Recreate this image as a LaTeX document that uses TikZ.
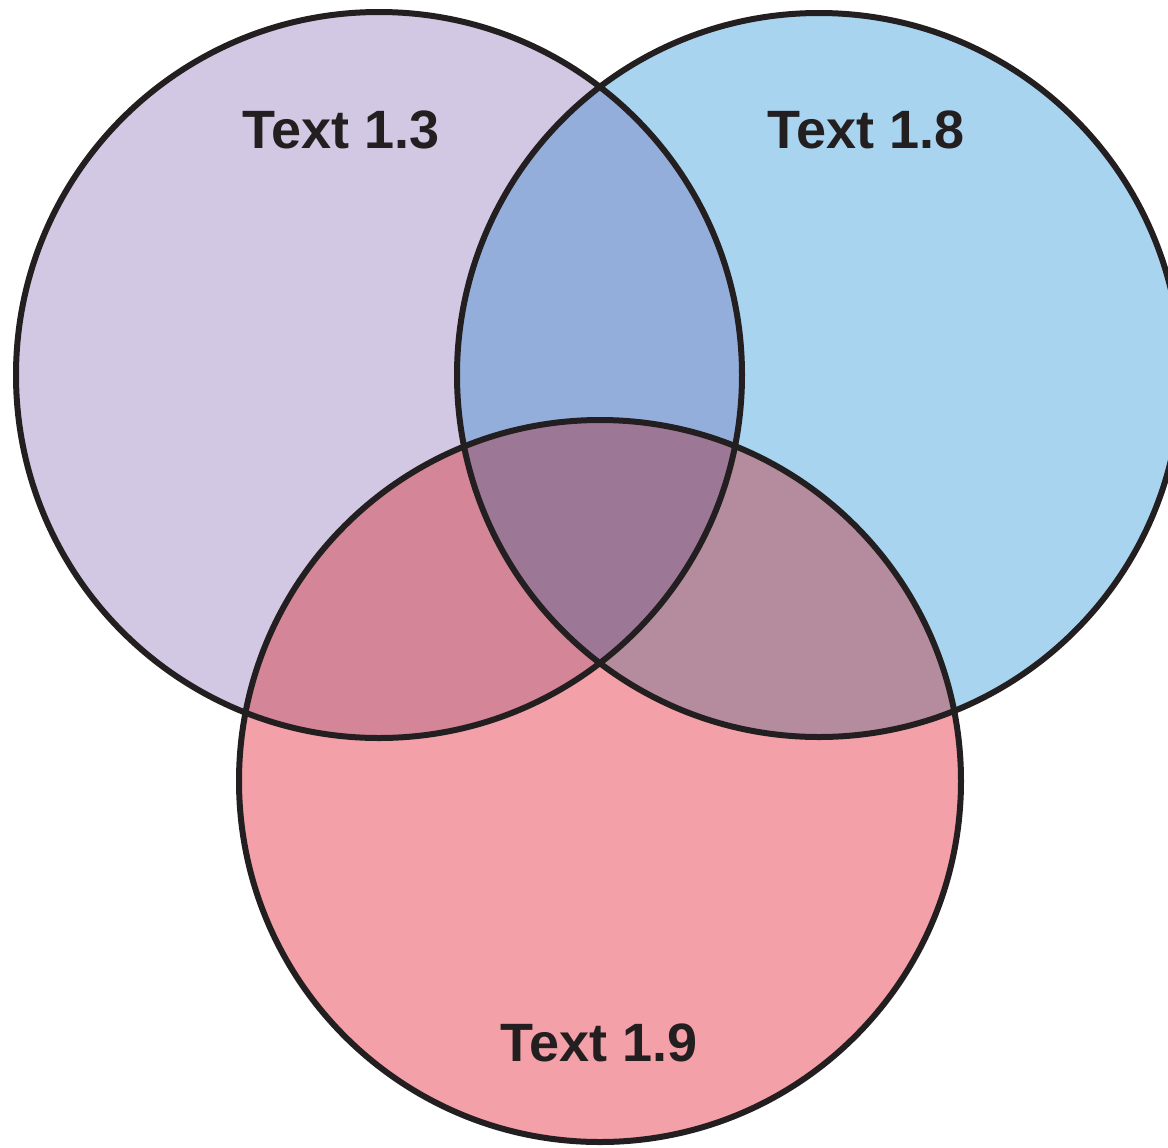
\documentclass[tikz,border=0pt]{standalone}
\usepackage{fontspec}
\setmainfont{Liberation Sans}
\definecolor{cL}{HTML}{D3C8E3}
\definecolor{cR}{HTML}{A8D4F0}
\definecolor{cB}{HTML}{F4A0A8}
\definecolor{cLR}{HTML}{94AEDB}
\definecolor{cLB}{HTML}{D48597}
\definecolor{cRB}{HTML}{B48C9E}
\definecolor{cLRB}{HTML}{9C7896}
\definecolor{ink}{HTML}{231F20}
\begin{document}
\begin{tikzpicture}[x=0.5pt,y=-0.5pt,
  outline/.style={draw=ink,line width=3pt},
  lbl/.style={text=ink,font=\fontsize{27}{30}\selectfont\bfseries}]
\useasboundingbox (0,0) rectangle (1168,1147);
\def\Lc{(379,375) circle[radius=363]}
\def\Rc{(819,375) circle[radius=362]}
\def\Bc{(600,781) circle[radius=361]}
\begin{scope}
\clip (0,0) rectangle (1168,1147);
\fill[cL] \Lc;
\fill[cR] \Rc;
\fill[cB] \Bc;
\begin{scope}\clip \Lc; \fill[cLR] \Rc; \end{scope}
\begin{scope}\clip \Lc; \fill[cLB] \Bc; \end{scope}
\begin{scope}\clip \Rc; \fill[cRB] \Bc; \end{scope}
\begin{scope}\clip \Lc; \clip \Rc; \fill[cLRB] \Bc; \end{scope}
\draw[outline] \Lc;
\draw[outline] \Rc;
\draw[outline] \Bc;
\end{scope}
\node[lbl] (t13) at (341,130) {Text 1.3};
\node[lbl] (t18) at (866,130) {Text 1.8};
\node[lbl] (t19) at (599,1043) {Text 1.9};
\end{tikzpicture}
\end{document}
